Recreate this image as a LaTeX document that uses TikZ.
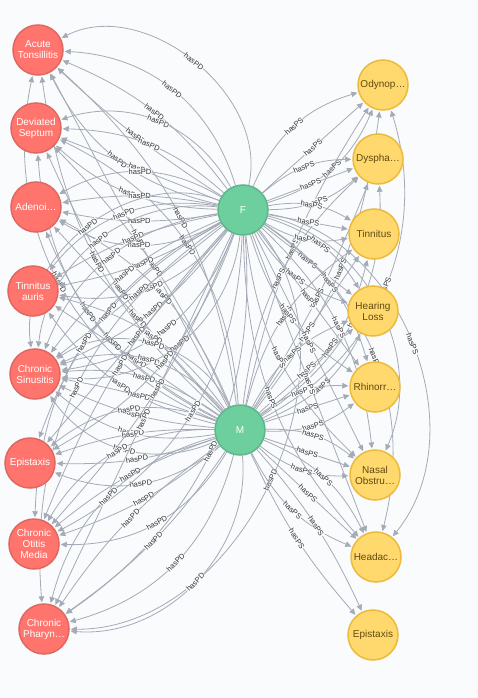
\documentclass[tikz,border=0pt]{standalone}
\usepackage{fontspec}
\setmainfont{Liberation Sans}
\usetikzlibrary{arrows.meta}
\definecolor{cbg}{HTML}{F9FBFD}
\definecolor{cred}{HTML}{FF756E}
\definecolor{credline}{HTML}{E06760}
\definecolor{cgreen}{HTML}{6DCE9E}
\definecolor{cgreenline}{HTML}{60B58B}
\definecolor{cyellow}{HTML}{FFD86E}
\definecolor{cyellowline}{HTML}{EDBA39}
\definecolor{cedge}{HTML}{A5ABB6}
\definecolor{cdark}{HTML}{604A0E}
\pgfdeclarelayer{back}
\pgfdeclarelayer{edges}
\pgfsetlayers{back,edges,main}
\tikzset{
  every picture/.style={line width=1pt},
  entity/.style={circle, minimum size=50pt, inner sep=0pt, align=center, line width=1.5pt, font=\fontsize{10}{11}\selectfont},
  link/.style={draw=cedge, line width=0.8pt, -{Triangle[length=6pt, width=5.5pt]}, shorten >=1pt},
  rel/.style={midway, sloped, fill=cbg, inner sep=0.4pt, font=\fontsize{7.5}{7.5}\selectfont, text=black!80},
}

\begin{document}
\begin{tikzpicture}[x=1pt, y=-1pt,
  disease/.style={entity, fill=cred, draw=credline, text=white},
  gender/.style={entity, fill=cgreen, draw=cgreenline, text=white},
  symptom/.style={entity, fill=cyellow, draw=cyellowline, text=cdark}]
  \useasboundingbox (0,0) rectangle (478,698);
  \begin{pgfonlayer}{back}
    \fill[cbg] (0,0) rectangle (478,698);
  \end{pgfonlayer}
  % diseases (left column)
  \node[disease] (ats) at (38,50) {Acute\\Tonsillitis};
  \node[disease] (ds) at (36,128) {Deviated\\Septum};
  \node[disease] (ad) at (36,207) {Adenoi…};
  \node[disease] (ta) at (33,291) {Tinnitus\\auris};
  \node[disease] (cs) at (35,374) {Chronic\\Sinusitis};
  \node[disease] (ep) at (30,463) {Epistaxis};
  \node[disease] (com) at (34,544) {Chronic\\Otitis\\Media};
  \node[disease] (cph) at (44,629) {Chronic\\Pharyn…};
  % genders
  \node[gender] (f) at (243,210) {F};
  \node[gender] (m) at (240,430) {M};
  % symptoms (right column)
  \node[symptom] (od) at (383,85) {Odynop…};
  \node[symptom] (dy) at (378,159) {Dyspha…};
  \node[symptom] (tin) at (374,234) {Tinnitus};
  \node[symptom] (hl) at (373,311) {Hearing\\Loss};
  \node[symptom] (rh) at (375,387) {Rhinorr…};
  \node[symptom] (no) at (375,475) {Nasal\\Obstru…};
  \node[symptom] (he) at (376,557) {Headac…};
  \node[symptom] (epy) at (373,635) {Epistaxis};
  % relationships, parallel edges fan out by their bend
  \begin{pgfonlayer}{edges}
    \foreach \r/\fb/\mb in {ats/{-65,-35,-15,5,25}/{-20,0,20,40},
        ds/{-40,-20,0,20}/{-30,-10,10,30}, ad/{-30,-10,10,30}/{-20,0,20},
        ta/{-30,-10,10,30}/{-20,0,20}, cs/{-60,-45,-30,-15,0,15,30,45}/{-50,-35,-20,-5,10,25,40},
        ep/{-20,0,20}/{-30,-10,10,30}, com/{-30,-10,10,30}/{-30,-10,10,30},
        cph/{-30,0,30,65}/{-30,-10,10,30,50}} {
      \foreach \b in \fb \draw[link] (f) to[bend left=\b] node[rel] {hasPD} (\r);
      \foreach \b in \mb \draw[link] (m) to[bend left=\b] node[rel] {hasPD} (\r);
    }
    \foreach \s/\fb/\mb in {od/{-25,0,25}/{-40,-15,10}, dy/{-20,0,20}/{-30,-5,20},
        tin/{-20,0,20}/{-20,0,20}, hl/{-20,0,20}/{-20,0,20}, rh/{-20,0,20}/{-20,0,20},
        no/{-20,0,20,50}/{-20,0,20}, he/{-20,0,35,60}/{-20,0,20}} {
      \foreach \b in \fb \draw[link] (f) to[bend left=\b] node[rel] {hasPS} (\s);
      \foreach \b in \mb \draw[link] (m) to[bend left=\b] node[rel] {hasPS} (\s);
    }
    \foreach \b in {-8,8} \draw[link] (m) to[bend left=\b] node[rel] {hasPS} (epy);
  \end{pgfonlayer}
\end{tikzpicture}
\end{document}
